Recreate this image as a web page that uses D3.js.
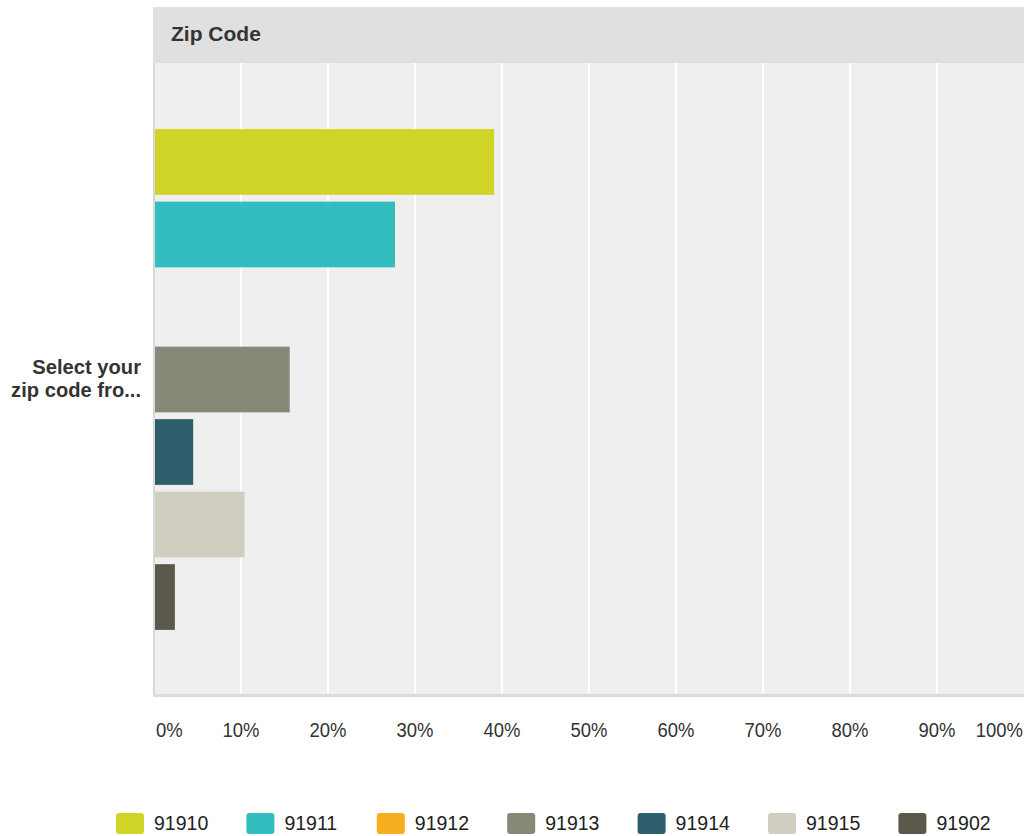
<!DOCTYPE html>
<html>
<head>
<meta charset="utf-8">
<script src="https://cdn.jsdelivr.net/npm/d3@7"></script>
<style>
  body { margin: 0; background: #fff; }
  svg { display: block; font-family: "Liberation Sans", Arial, sans-serif; }
</style>
</head>
<body>
<script>
// data
const question = "Select your zip code fro...";
const questionLines = ["Select your", "zip code fro..."];
const zips = ["91910", "91911", "91912", "91913", "91914", "91915", "91902"];
const percents = [39.1, 27.7, 0, 15.6, 4.5, 10.4, 2.4];
const zipColors = ["#d0d427", "#33bdbf", "#f7ae1f", "#888878", "#2e5e6c", "#cfcec0", "#5b594a"];
const ticks = [0, 10, 20, 30, 40, 50, 60, 70, 80, 90, 100];
const title = "Zip Code";

const margin = { top: 63, left: 154, right: 5, bottom: 140 };
const W = 1029, H = 836;
const width = 1024 - margin.left;
const height = 696 - margin.top;

const svg = d3.select("body").append("svg")
  .attr("width", W)
  .attr("height", H);

// header band
svg.append("rect")
  .attr("x", margin.left - 1).attr("y", 7)
  .attr("width", width + 1).attr("height", margin.top - 7)
  .attr("fill", "#e0e0e0");
svg.append("text")
  .attr("x", 171).attr("y", 41)
  .attr("font-size", 21).attr("font-weight", "bold")
  .attr("fill", "#333")
  .text(title);

const g = svg.append("g")
  .attr("transform", `translate(${margin.left},${margin.top})`);

g.append("rect")
  .attr("width", width).attr("height", height)
  .attr("fill", "#efefef");

const x = d3.scaleLinear().domain([0, 100]).range([0, width]);
const y0 = d3.scaleBand().domain([question]).range([0, height]).paddingOuter(0.132);
const y1 = d3.scaleBand().domain(zips).range([0, y0.bandwidth()]).paddingInner(0.094);

// gridlines
g.selectAll("line.grid")
  .data(ticks.slice(1, -1))
  .join("line")
  .attr("class", "grid")
  .attr("x1", d => x(d)).attr("x2", d => x(d))
  .attr("y1", 0).attr("y2", height)
  .attr("stroke", "#fff").attr("stroke-width", 2);

// bars
const data = zips.map((z, i) => ({ zip: z, value: percents[i], color: zipColors[i] }));
g.append("g")
  .attr("transform", `translate(0,${y0(question)})`)
  .selectAll("rect")
  .data(data)
  .join("rect")
  .attr("x", 1)
  .attr("y", d => y1(d.zip))
  .attr("width", d => Math.max(0, x(d.value) - 1))
  .attr("height", y1.bandwidth())
  .attr("fill", d => d.color);

// axis lines
g.append("line")
  .attr("x1", 0).attr("x2", 0).attr("y1", 0).attr("y2", height)
  .attr("stroke", "#d8d8d8").attr("stroke-width", 2);
g.append("line")
  .attr("x1", -1).attr("x2", width).attr("y1", height - 0.5).attr("y2", height - 0.5)
  .attr("stroke", "#dcdcdc").attr("stroke-width", 3);

// x tick labels
g.selectAll("text.tick")
  .data(ticks)
  .join("text")
  .attr("class", "tick")
  .attr("transform", (d, i) => {
    let px = x(d);
    if (i === 0) px += 2;
    if (i === ticks.length - 1) px -= 1;
    return `translate(${px},${737 - margin.top}) scale(0.88,1)`;
  })
  .attr("text-anchor", (d, i) => i === 0 ? "start" : (i === ticks.length - 1 ? "end" : "middle"))
  .attr("font-size", 21)
  .attr("fill", "#333")
  .text(d => d + "%");

// y category label
svg.append("g")
  .selectAll("text")
  .data(questionLines)
  .join("text")
  .attr("transform", (d, i) => `translate(141,${374 + i * 23}) scale(0.96,1)`)
  .attr("text-anchor", "end")
  .attr("font-size", 21)
  .attr("font-weight", "bold")
  .attr("fill", "#333")
  .text(d => d);

// legend
const legend = svg.append("g")
  .selectAll("g")
  .data(data)
  .join("g")
  .attr("transform", (d, i) => `translate(${116 + i * 130.4},813)`);
legend.append("rect")
  .attr("width", 28).attr("height", 21)
  .attr("rx", 3)
  .attr("fill", d => d.color);
legend.append("text")
  .attr("transform", "translate(38,16.5) scale(0.93,1)")
  .attr("font-size", 21)
  .attr("fill", "#222")
  .text(d => d.zip);
</script>
</body>
</html>
